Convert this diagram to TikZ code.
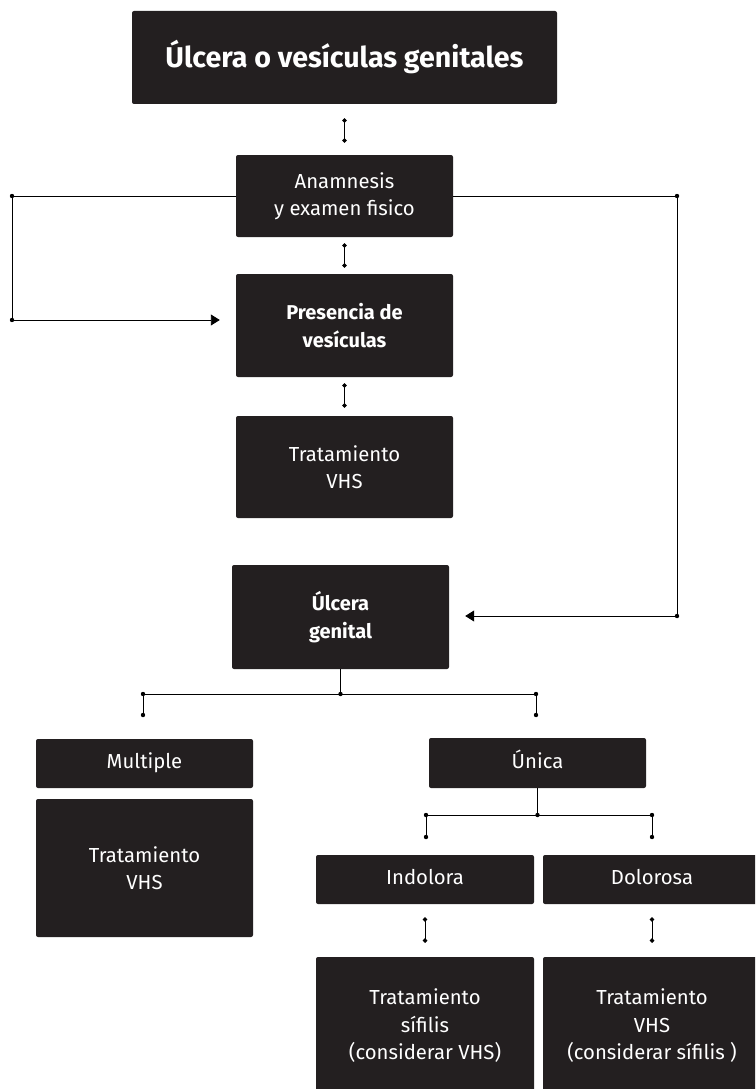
\documentclass[tikz,border=0pt]{standalone}
\usepackage{fontspec}
\setmainfont{Fira Sans}
\usetikzlibrary{arrows.meta}
\definecolor{boxfill}{HTML}{231F20}
\begin{document}
\begin{tikzpicture}[x=1pt,y=-1pt,
  box/.style={fill=boxfill, rounded corners=2pt, text=white, align=center,
    inner sep=0pt, minimum width=217pt, font=\fontsize{20.3}{27.5}\selectfont},
  boldbox/.style={box, font=\bfseries\fontsize{20}{27.5}\selectfont},
  oneline/.style={box, text height=14.5pt, text depth=4.5pt},
  link/.style={draw=black, line width=0.9pt},
  dotlink/.style={link, {Circle[length=4.4pt]}-{Circle[length=4.4pt]}},
  arrowlink/.style={link, -{Triangle[length=9pt,width=11pt]}, shorten >=16pt},
  joint/.style={fill=black}
]
\useasboundingbox (0,0) rectangle (755,1089);
\clip (0,0) rectangle (755,1089);

% boxes
\node[box, minimum width=425pt, minimum height=93pt,
      font=\bfseries\fontsize{28.6}{32}\selectfont] (title) at (344.5,57.5)
      {Úlcera o vesículas genitales};
\node[box, minimum height=82pt] (anam) at (344.5,196) {Anamnesis\\y examen fisico};
\node[boldbox, minimum height=103pt] (pres) at (344.5,325.5) {Presencia de\\vesículas};
\node[box, minimum height=102pt] (vhsA) at (344.5,467) {Tratamiento\\VHS};
\node[boldbox, minimum height=104pt] (ulc) at (340.5,617) {Úlcera\\genital};
\node[oneline, minimum height=49pt] (mult) at (144.5,763.5) {Multiple};
\node[box, minimum height=138pt] (vhsB) at (144.5,868) {Tratamiento\\VHS};
\node[oneline, minimum height=50pt] (unica) at (537.5,763) {Única};
\node[oneline, minimum width=218pt, minimum height=49pt] (indol) at (425,879.5) {Indolora};
\node[oneline, minimum width=218pt, minimum height=49pt] (dolor) at (652,879.5) {Dolorosa};
\node[box, minimum width=218pt, minimum height=138pt] (sif) at (425,1026)
      {Tratamiento\\sífilis\\(considerar VHS)};
\node[box, minimum width=218pt, minimum height=138pt] (vhsC) at (652,1026)
      {Tratamiento\\VHS\\(considerar sífilis )};

% short links between stacked boxes
\draw[dotlink, shorten <=14pt, shorten >=12pt] (title) -- (anam);
\draw[dotlink, shorten <=6pt, shorten >=6pt] (anam) -- (pres);
\draw[dotlink, shorten <=6pt, shorten >=8pt] (pres) -- (vhsA);
\draw[dotlink, shorten <=13pt, shorten >=14pt] (indol) -- (sif);
\draw[dotlink, shorten <=13pt, shorten >=14pt] (dolor) -- (vhsC);

% side loops from the history box
\coordinate (la) at (12,196);
\coordinate (lb) at (12,320);
\coordinate (ra) at (677,196);
\coordinate (rb) at (677,616);
\draw[arrowlink] (anam.west) -- (la) -- (lb) -- (lb -| pres.west);
\draw[arrowlink] (anam.east) -- (ra) -- (rb) -- (rb -| ulc.east);
\foreach \p in {la,lb,ra,rb} \fill[joint] (\p) circle (2.2pt);

% split below the ulcer box
\coordinate (b1) at (340.5,694);
\coordinate (b1l) at (143,694);
\coordinate (b1r) at (536,694);
\coordinate (d1l) at (143,715);
\coordinate (d1r) at (536,715);
\draw[link] (ulc.south) -- (b1);
\draw[link] (b1l) -- (b1r);
\draw[link] (b1l) -- (d1l);
\draw[link] (b1r) -- (d1r);
\foreach \p in {b1,b1l,b1r,d1l,d1r} \fill[joint] (\p) circle (2.2pt);

% split below the single ulcer box
\coordinate (b2) at (537.5,815);
\coordinate (b2l) at (426,815);
\coordinate (b2r) at (652,815);
\coordinate (d2l) at (426,837);
\coordinate (d2r) at (652,837);
\draw[link] (unica.south) -- (b2);
\draw[link] (b2l) -- (b2r);
\draw[link] (b2l) -- (d2l);
\draw[link] (b2r) -- (d2r);
\foreach \p in {b2,b2l,b2r,d2l,d2r} \fill[joint] (\p) circle (2.2pt);
\end{tikzpicture}
\end{document}
